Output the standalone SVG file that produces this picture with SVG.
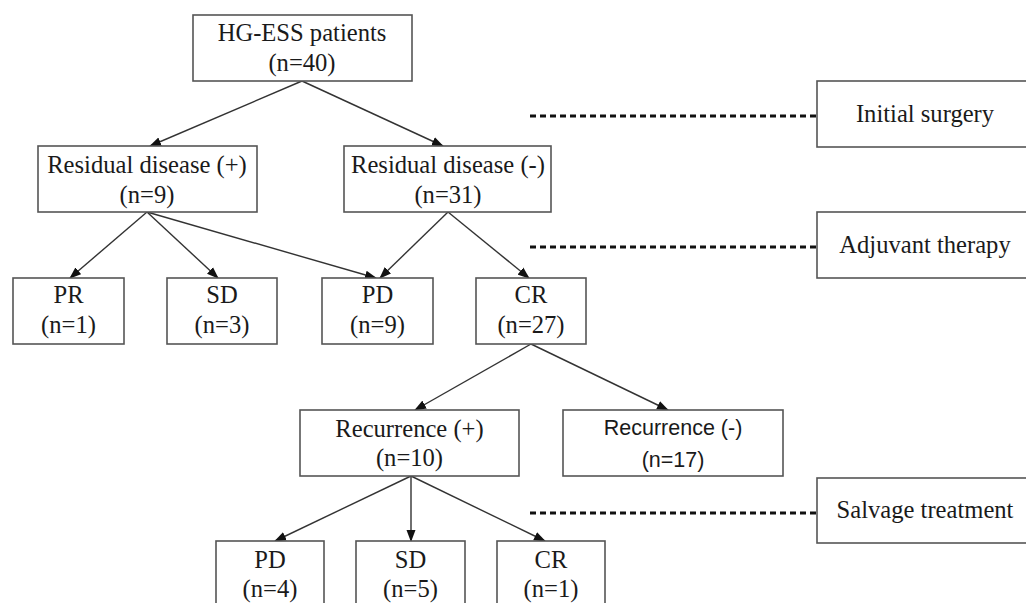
<svg xmlns="http://www.w3.org/2000/svg" width="1026" height="603" viewBox="0 0 1026 603">
<style>
.box{fill:#fff;stroke:#555;stroke-width:1.6}
.t{font-family:"Liberation Serif","Times New Roman",serif;font-size:24.6px;fill:#1a1a1a;text-anchor:middle}
.s{font-family:"Liberation Sans",Arial,sans-serif;font-size:21.5px;fill:#1a1a1a;text-anchor:middle}
.c{stroke:#333;stroke-width:1.4;fill:none;marker-end:url(#ah)}
.d{stroke:#111;stroke-width:3;stroke-dasharray:6 4;fill:none}
</style>
<defs>
<marker id="ah" markerWidth="12" markerHeight="10" refX="11" refY="5" orient="auto" markerUnits="userSpaceOnUse">
<path d="M0,0.5 L12,5 L0,9.5 z" fill="#111"/>
</marker>
</defs>
<rect width="1026" height="603" fill="#fff"/>
<g id="connectors">
<line class="c" x1="302" y1="81" x2="150" y2="146"/>
<line class="c" x1="302" y1="81" x2="443" y2="146"/>
<line class="c" x1="147" y1="212" x2="70" y2="278"/>
<line class="c" x1="147" y1="212" x2="218" y2="278"/>
<line class="c" x1="147" y1="212" x2="376" y2="278"/>
<line class="c" x1="448" y1="212" x2="380" y2="278"/>
<line class="c" x1="448" y1="212" x2="529" y2="278"/>
<line class="c" x1="531" y1="344" x2="415" y2="410"/>
<line class="c" x1="531" y1="344" x2="668" y2="410"/>
<line class="c" x1="411" y1="476" x2="275" y2="541"/>
<line class="c" x1="411" y1="476" x2="411" y2="541"/>
<line class="c" x1="411" y1="476" x2="545" y2="541"/>
<line class="d" x1="530" y1="116" x2="817" y2="116"/>
<line class="d" x1="530" y1="247" x2="817" y2="247"/>
<line class="d" x1="530" y1="513" x2="817" y2="513"/>
</g>
<g id="n-hg"><rect class="box" x="193" y="15" width="219" height="66"/><text class="t" x="302" y="41">HG-ESS patients</text><text class="t" x="302" y="71">(n=40)</text></g>
<g id="n-rdp"><rect class="box" x="38" y="146" width="219" height="66"/><text class="t" x="147" y="173">Residual disease (+)</text><text class="t" x="147" y="203">(n=9)</text></g>
<g id="n-rdn"><rect class="box" x="344" y="146" width="207" height="66"/><text class="t" x="448" y="173">Residual disease (-)</text><text class="t" x="448" y="203">(n=31)</text></g>
<g id="n-pr"><rect class="box" x="13" y="278" width="111" height="66"/><text class="t" x="68.5" y="303">PR</text><text class="t" x="68.5" y="333">(n=1)</text></g>
<g id="n-sd1"><rect class="box" x="167" y="278" width="110" height="66"/><text class="t" x="222" y="303">SD</text><text class="t" x="222" y="333">(n=3)</text></g>
<g id="n-pd1"><rect class="box" x="322" y="278" width="111" height="66"/><text class="t" x="377.5" y="303">PD</text><text class="t" x="377.5" y="333">(n=9)</text></g>
<g id="n-cr1"><rect class="box" x="476" y="278" width="110" height="66"/><text class="t" x="531" y="303">CR</text><text class="t" x="531" y="333">(n=27)</text></g>
<g id="n-recp"><rect class="box" x="300" y="410" width="219" height="66"/><text class="t" x="409.5" y="437">Recurrence (+)</text><text class="t" x="409.5" y="466">(n=10)</text></g>
<g id="n-recn"><rect class="box" x="563" y="410" width="220" height="66"/><text class="s" x="673" y="435">Recurrence (-)</text><text class="s" x="673" y="467">(n=17)</text></g>
<g id="n-pd2"><rect class="box" x="216" y="541" width="108" height="80"/><text class="t" x="270" y="568">PD</text><text class="t" x="270" y="597">(n=4)</text></g>
<g id="n-sd2"><rect class="box" x="356" y="541" width="109" height="80"/><text class="t" x="410.5" y="568">SD</text><text class="t" x="410.5" y="597">(n=5)</text></g>
<g id="n-cr2"><rect class="box" x="497" y="541" width="108" height="80"/><text class="t" x="551" y="568">CR</text><text class="t" x="551" y="597">(n=1)</text></g>
<g id="l-initial"><rect class="box" x="817" y="81" width="220" height="66"/><text class="t" x="925" y="122">Initial surgery</text></g>
<g id="l-adjuvant"><rect class="box" x="817" y="212" width="220" height="66"/><text class="t" x="925" y="253">Adjuvant therapy</text></g>
<g id="l-salvage"><rect class="box" x="817" y="478" width="220" height="65"/><text class="t" x="925" y="518">Salvage treatment</text></g>
</svg>
